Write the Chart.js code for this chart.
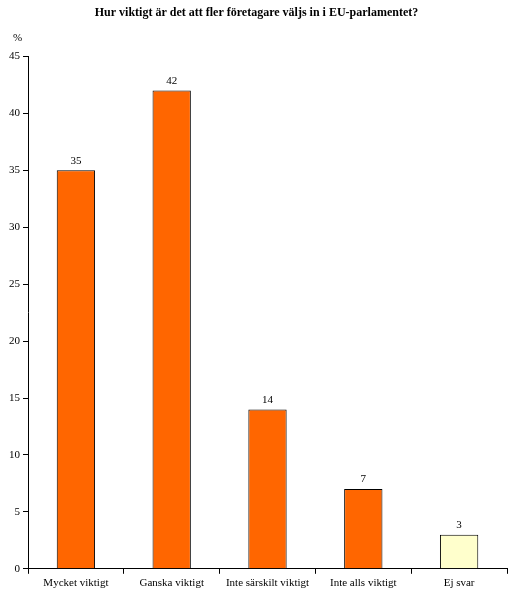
<!DOCTYPE html>
<html><head><meta charset="utf-8">
<script src="https://cdn.jsdelivr.net/npm/chart.js@4"></script>
<style>html,body{margin:0;padding:0;background:#fff}#w{width:515px;height:597px;position:relative}</style>
</head><body><div id="w"><canvas id="c"></canvas></div>
<script>
const categories=["Mycket viktigt","Ganska viktigt","Inte särskilt viktigt","Inte alls viktigt","Ej svar"];
const values=[35,42,14,7,3];
const colors=["#FF6600","#FF6600","#FF6600","#FF6600","#FFFFCC"];
const F="'Liberation Serif','Times New Roman',serif";
const labelsPlugin={id:"lbl",afterDatasetsDraw(ch){const c=ch.ctx;c.save();c.font="11px "+F;c.fillStyle="#000";c.textAlign="center";c.textBaseline="bottom";
ch.getDatasetMeta(0).data.forEach((b,i)=>c.fillText(values[i],b.x,b.y-4));
c.textAlign="left";c.textBaseline="middle";c.fillText("%",13,38);c.restore();}};
new Chart(document.getElementById("c"),{type:"bar",
data:{labels:categories,datasets:[{data:values,backgroundColor:colors,borderColor:"#000",borderWidth:1,categoryPercentage:1,barPercentage:0.4}]},
options:{responsive:true,maintainAspectRatio:false,animation:false,
layout:{padding:{left:6,right:8,top:0,bottom:4}},
plugins:{legend:{display:false},tooltip:{enabled:false},
title:{display:true,text:"Hur viktigt är det att fler företagare väljs in i EU-parlamentet?",color:"#000",font:{family:F,size:12,weight:"bold"},padding:{top:6,bottom:36}}},
scales:{x:{grid:{display:true,drawOnChartArea:false,offset:true,color:"#000",tickLength:5},border:{color:"#000"},ticks:{color:"#000",font:{family:F,size:11},maxRotation:0,autoSkip:false}},
y:{min:0,max:45,grid:{drawOnChartArea:false,color:"#000",tickLength:5},border:{color:"#000"},ticks:{stepSize:5,color:"#000",font:{family:F,size:11}}}}},
plugins:[labelsPlugin]});
</script></body></html>
